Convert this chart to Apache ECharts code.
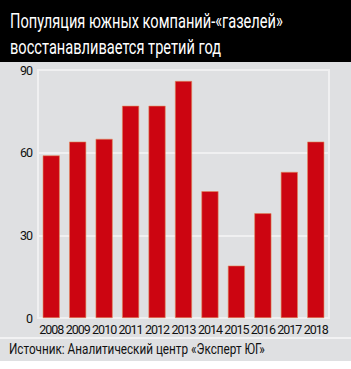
<!DOCTYPE html>
<html>
<head>
<meta charset="utf-8">
<script src="https://cdn.jsdelivr.net/npm/echarts@6/dist/echarts.min.js"></script>
<style>
  html, body { margin: 0; padding: 0; background: #fff; }
  #chart { width: 351px; height: 369px; }
  /* narrow the axis text a little, the original uses a condensed face */
  #chart svg text { letter-spacing: -1px; }
  /* squeezed header/footer texts keep normal spacing */
  #chart svg text[transform^="matrix(0."] { letter-spacing: 0; }
</style>
</head>
<body>
<div id="chart"></div>
<script>
// Gazelle companies in the south, count by year
const years = ['2008', '2009', '2010', '2011', '2012', '2013', '2014', '2015', '2016', '2017', '2018'];
const counts = [59, 64, 65, 77, 77, 86, 46, 19, 38, 53, 64];
const yTicks = [0, 30, 60, 90];

const titleLines = ['Популяция южных компаний-«газелей»', 'восстанавливается третий год'];
const sourceText = 'Источник: Аналитический центр «Эксперт ЮГ»';

const FONT = 'Roboto, sans-serif';
const BG = '#dfe0e2';
const BAR = '#cc0511';

// squeeze a text to a target width (no condensed font on this box)
function squeeze(text, size, target) {
  const ctx = document.createElement('canvas').getContext('2d');
  ctx.font = size + 'px ' + FONT;
  return target / ctx.measureText(text).width;
}

const titleScale = squeeze(titleLines[0], 21, 273);
const sourceScale = squeeze(sourceText, 14, 256);

const chart = echarts.init(document.getElementById('chart'), null, { renderer: 'svg' });

chart.setOption({
  animation: false,
  backgroundColor: '#ffffff',
  graphic: [
    { type: 'rect', z: -10, shape: { x: 0, y: 0, width: 351, height: 361 }, style: { fill: BG } },
    { type: 'rect', z: -9, shape: { x: 0, y: 0, width: 351, height: 62 }, style: { fill: '#000000' } },
    { type: 'rect', z: -9, shape: { x: 0, y: 337, width: 351, height: 2 }, style: { fill: '#f2f2f3' } },
    {
      type: 'text', x: 10, y: 20, scaleX: titleScale, originX: 0, originY: 0,
      style: { text: titleLines[0], fill: '#ffffff', font: '21px ' + FONT, verticalAlign: 'middle' }
    },
    {
      type: 'text', x: 10, y: 46, scaleX: titleScale, originX: 0, originY: 0,
      style: { text: titleLines[1], fill: '#ffffff', font: '21px ' + FONT, verticalAlign: 'middle' }
    },
    {
      type: 'text', x: 9, y: 349, scaleX: sourceScale, originX: 0, originY: 0,
      style: { text: sourceText, fill: '#111111', font: '14px ' + FONT, verticalAlign: 'middle' }
    }
  ],
  grid: { left: 38, right: 22, top: 70, bottom: 51, show: true, borderColor: '#f0f0f1', borderWidth: 2 },
  xAxis: {
    type: 'category',
    data: years,
    axisLine: { show: false },
    axisTick: { show: false },
    axisLabel: { color: '#111', fontFamily: FONT, fontSize: 12.5, margin: 5, interval: 0 }
  },
  yAxis: {
    type: 'value',
    min: 0, max: 90, interval: 30,
    axisLine: { show: false },
    axisTick: { show: false },
    axisLabel: {
      color: '#111', fontFamily: FONT, fontSize: 12.5, margin: 6,
      formatter: v => yTicks.includes(v) ? String(v) : ''
    },
    splitLine: { lineStyle: { color: '#f0f0f1', width: 2 } }
  },
  series: [{
    type: 'bar',
    data: counts,
    barWidth: 17,
    itemStyle: { color: BAR, borderColor: '#e08a5a', borderWidth: 0.6 }
  }]
});
</script>
</body>
</html>
